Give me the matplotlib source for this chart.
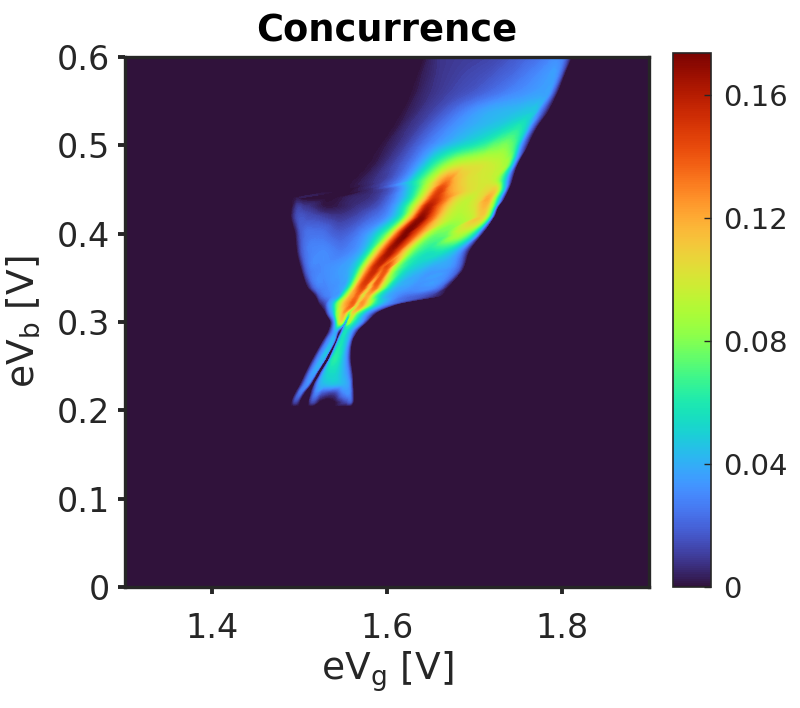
import numpy as np
import matplotlib
matplotlib.use('Agg')
import matplotlib.pyplot as plt
import matplotlib.tri as mtri
from matplotlib.cm import ScalarMappable
from matplotlib.colors import Normalize

# concurrence, row by row (eV_b), each row has the same
# 16 knots along eV_g: left edge ... main ridge ... right edge
eV_b = [0.60, 0.58, 0.56, 0.54, 0.52, 0.50, 0.48, 0.46, 0.45, 0.44, 0.43, 0.42, 0.40, 0.38,
        0.36, 0.34, 0.33, 0.32, 0.31, 0.30, 0.29, 0.28, 0.26, 0.24, 0.23, 0.22, 0.21, 0.205]

eV_g = [
    [1.641, 1.646, 1.653, 1.662, 1.674, 1.689, 1.706, 1.719, 1.732, 1.746, 1.758, 1.771, 1.783, 1.795, 1.803, 1.811],
    [1.634, 1.639, 1.649, 1.660, 1.674, 1.689, 1.706, 1.719, 1.732, 1.746, 1.758, 1.771, 1.783, 1.793, 1.798, 1.803],
    [1.626, 1.633, 1.642, 1.654, 1.668, 1.683, 1.699, 1.714, 1.729, 1.742, 1.756, 1.769, 1.779, 1.786, 1.790, 1.795],
    [1.617, 1.623, 1.633, 1.644, 1.657, 1.671, 1.686, 1.702, 1.717, 1.734, 1.749, 1.763, 1.771, 1.775, 1.780, 1.785],
    [1.604, 1.612, 1.621, 1.633, 1.645, 1.658, 1.671, 1.685, 1.700, 1.714, 1.729, 1.742, 1.753, 1.759, 1.765, 1.771],
    [1.590, 1.598, 1.607, 1.619, 1.631, 1.643, 1.655, 1.669, 1.683, 1.697, 1.711, 1.725, 1.738, 1.747, 1.754, 1.761],
    [1.575, 1.587, 1.601, 1.614, 1.628, 1.641, 1.654, 1.667, 1.679, 1.693, 1.708, 1.723, 1.732, 1.739, 1.745, 1.750],
    [1.557, 1.569, 1.582, 1.601, 1.620, 1.637, 1.651, 1.661, 1.669, 1.677, 1.691, 1.706, 1.717, 1.725, 1.734, 1.743],
    [1.547, 1.551, 1.559, 1.566, 1.582, 1.605, 1.631, 1.649, 1.661, 1.671, 1.692, 1.706, 1.717, 1.725, 1.732, 1.739],
    [1.491, 1.497, 1.503, 1.533, 1.557, 1.597, 1.626, 1.642, 1.654, 1.665, 1.678, 1.694, 1.708, 1.717, 1.726, 1.734],
    [1.491, 1.498, 1.506, 1.529, 1.563, 1.597, 1.620, 1.635, 1.646, 1.658, 1.671, 1.685, 1.700, 1.714, 1.722, 1.727],
    [1.490, 1.497, 1.511, 1.546, 1.580, 1.603, 1.618, 1.629, 1.640, 1.651, 1.664, 1.679, 1.697, 1.711, 1.717, 1.723],
    [1.495, 1.502, 1.521, 1.546, 1.571, 1.589, 1.603, 1.611, 1.621, 1.629, 1.637, 1.649, 1.666, 1.685, 1.701, 1.709],
    [1.497, 1.503, 1.523, 1.551, 1.571, 1.580, 1.587, 1.595, 1.603, 1.611, 1.618, 1.628, 1.643, 1.666, 1.683, 1.694],
    [1.502, 1.508, 1.525, 1.546, 1.557, 1.565, 1.572, 1.578, 1.586, 1.593, 1.599, 1.607, 1.619, 1.643, 1.681, 1.687],
    [1.509, 1.517, 1.532, 1.546, 1.553, 1.557, 1.562, 1.566, 1.573, 1.580, 1.587, 1.595, 1.605, 1.626, 1.660, 1.670],
    [1.518, 1.524, 1.538, 1.546, 1.550, 1.555, 1.558, 1.562, 1.566, 1.572, 1.578, 1.585, 1.594, 1.612, 1.651, 1.663],
    [1.523, 1.529, 1.533, 1.538, 1.542, 1.547, 1.551, 1.556, 1.561, 1.565, 1.571, 1.577, 1.584, 1.593, 1.604, 1.611],
    [1.530, 1.532, 1.535, 1.538, 1.540, 1.542, 1.545, 1.548, 1.551, 1.556, 1.561, 1.565, 1.571, 1.575, 1.580, 1.587],
    [1.5354, 1.5371, 1.5389, 1.5406, 1.5423, 1.5440, 1.5457, 1.5480, 1.5503, 1.5526, 1.5560, 1.5594, 1.5629, 1.5663, 1.5709, 1.5766],
    [1.5331, 1.5354, 1.5377, 1.5394, 1.5411, 1.5423, 1.5434, 1.5446, 1.5457, 1.5469, 1.5491, 1.5514, 1.5549, 1.5583, 1.5617, 1.5663],
    [1.5274, 1.5297, 1.5320, 1.5354, 1.5377, 1.5394, 1.5406, 1.5417, 1.5429, 1.5440, 1.5451, 1.5480, 1.5514, 1.5549, 1.5571, 1.5606],
    [1.5160, 1.5183, 1.5206, 1.5240, 1.5263, 1.5286, 1.5297, 1.5309, 1.5343, 1.5354, 1.5371, 1.5400, 1.5446, 1.5491, 1.5537, 1.5583],
    [1.5057, 1.5080, 1.5103, 1.5126, 1.5149, 1.5166, 1.5177, 1.5189, 1.5223, 1.5240, 1.5263, 1.5309, 1.5400, 1.5491, 1.5560, 1.5606],
    [1.5011, 1.5034, 1.5057, 1.5080, 1.5097, 1.5109, 1.5120, 1.5131, 1.5166, 1.5183, 1.5217, 1.5297, 1.5411, 1.5514, 1.5571, 1.5611],
    [1.4954, 1.4977, 1.4994, 1.5011, 1.5023, 1.5034, 1.5046, 1.5057, 1.5126, 1.5149, 1.5183, 1.5251, 1.5400, 1.5514, 1.5571, 1.5617],
    [1.4909, 1.4926, 1.4943, 1.4960, 1.4977, 1.4989, 1.5000, 1.5011, 1.5103, 1.5114, 1.5149, 1.5229, 1.5400, 1.5537, 1.5583, 1.5617],
    [1.4909, 1.4926, 1.4943, 1.4960, 1.4977, 1.4989, 1.5000, 1.5011, 1.5103, 1.5114, 1.5149, 1.5229, 1.5400, 1.5537, 1.5583, 1.5617],
]

concurrence = [
    [0, .002, .005, .008, .009, .010, .011, .012, .014, .017, .020, .023, .027, .031, .024, 0],
    [0, .002, .005, .008, .010, .012, .014, .016, .019, .022, .026, .030, .034, .034, .022, 0],
    [0, .002, .005, .008, .011, .014, .017, .021, .025, .029, .032, .035, .036, .034, .020, 0],
    [0, .002, .005, .009, .013, .019, .026, .033, .038, .041, .043, .046, .044, .030, .015, 0],
    [0, .002, .006, .010, .016, .023, .030, .036, .041, .045, .050, .057, .060, .050, .025, 0],
    [0, .002, .005, .010, .017, .025, .033, .042, .050, .057, .065, .075, .078, .065, .030, 0],
    [0, .002, .008, .015, .025, .040, .060, .077, .090, .096, .098, .095, .090, .080, .040, 0],
    [0, .002, .006, .014, .033, .065, .092, .118, .130, .118, .105, .100, .098, .090, .055, 0],
    [0, 0, 0, .002, .006, .018, .058, .105, .145, .125, .105, .100, .105, .105, .060, 0],
    [0, .002, 0, 0, .004, .016, .056, .105, .150, .135, .107, .095, .105, .118, .065, 0],
    [0, .011, .009, .002, .007, .022, .058, .110, .160, .135, .105, .093, .100, .112, .065, 0],
    [0, .014, .014, .008, .019, .035, .065, .115, .168, .140, .105, .090, .095, .105, .070, 0],
    [0, .018, .024, .018, .029, .050, .085, .130, .172, .150, .125, .085, .075, .090, .050, 0],
    [0, .018, .030, .027, .040, .062, .095, .135, .165, .145, .115, .080, .060, .055, .033, 0],
    [0, .020, .030, .035, .040, .055, .090, .125, .155, .135, .140, .090, .060, .040, .020, 0],
    [0, .022, .030, .035, .043, .062, .095, .125, .145, .110, .135, .090, .050, .034, .024, 0],
    [0, .020, .032, .040, .065, .095, .115, .125, .135, .100, .120, .080, .050, .030, .010, 0],
    [0, .012, .030, .045, .070, .095, .115, .128, .135, .105, .125, .100, .065, .040, .020, 0],
    [0, .012, .028, .040, .055, .075, .090, .110, .120, .075, .105, .080, .055, .040, .025, 0],
    [0, .012, .025, .040, .060, .080, .095, .100, .070, .025, .085, .070, .055, .045, .030, 0],
    [0, .012, .025, .033, .040, .037, .025, .010, .003, 0, .030, .055, .050, .040, .025, 0],
    [0, .012, .025, .035, .042, .035, .015, 0, 0, .020, .040, .056, .050, .040, .028, 0],
    [0, .012, .025, .035, .042, .040, .025, 0, 0, .025, .050, .062, .058, .045, .030, 0],
    [0, .012, .024, .032, .035, .030, .015, 0, 0, .020, .038, .050, .052, .042, .028, 0],
    [0, .012, .024, .030, .030, .020, .010, 0, 0, .015, .034, .044, .045, .040, .030, 0],
    [0, .012, .022, .025, .020, .012, .005, 0, 0, .012, .028, .018, .012, .030, .030, 0],
    [0, .006, .012, .012, .008, .004, 0, 0, 0, .006, .014, 0, 0, .014, .018, 0],
    [0, 0, 0, 0, 0, 0, 0, 0, 0, 0, 0, 0, 0, 0, 0, 0],
]

x_ticks = [1.4, 1.6, 1.8]
y_ticks = [0, 0.1, 0.2, 0.3, 0.4, 0.5, 0.6]
y_tick_labels = ['0', '0.1', '0.2', '0.3', '0.4', '0.5', '0.6']
cbar_ticks = [0, 0.04, 0.08, 0.12, 0.16]
cbar_tick_labels = ['0', '0.04', '0.08', '0.12', '0.16']
vmax = 0.1735

dark = '#262626'
cmap = plt.get_cmap('turbo').copy()
cmap.set_under(cmap(0))
cmap.set_over(cmap(255))

# knots are connected row to row, so the mesh runs along the ridge
x = np.array(eV_g).ravel()
n_rows, n_knots = np.array(eV_g).shape
y = np.repeat(eV_b, n_knots)
z = np.array(concurrence, dtype=float).ravel()

triangles = []
for i in range(n_rows - 1):
    for j in range(n_knots - 1):
        a = i * n_knots + j
        b = a + 1
        c = a + n_knots
        d = c + 1
        triangles.append([a, b, c])
        triangles.append([b, d, c])
mesh = mtri.Triangulation(x, y, triangles)
smooth = mtri.CubicTriInterpolator(mesh, z, kind='geom')
fine_mesh, fine_z = mtri.UniformTriRefiner(mesh).refine_field(z, triinterpolator=smooth, subdiv=3)

W, H = 800, 708
fig = plt.figure(figsize=(W / 100, H / 100), dpi=100)
ax = fig.add_axes([125 / W, 1 - 587 / H, 524 / W, 530 / H])
ax.set_facecolor(cmap(0))
ax.tricontourf(fine_mesh, fine_z, levels=np.linspace(0, vmax, 220), cmap=cmap, vmin=0, vmax=vmax,
               antialiased=False, extend='max')

ax.set_xlim(1.3, 1.9)
ax.set_ylim(0, 0.6)
ax.set_xticks(x_ticks)
ax.set_yticks(y_ticks)
ax.set_yticklabels(y_tick_labels)
ax.tick_params(length=5, width=2.8, labelsize=24, colors=dark, pad=6)
ax.tick_params(axis='x', pad=13)
for s in ax.spines.values():
    s.set_linewidth(2.4)
    s.set_color(dark)

ax.set_xlabel('eV$_{\\mathrm{g}}$ [V]', fontsize=27, color=dark, labelpad=3)
ax.set_ylabel('eV$_{\\mathrm{b}}$ [V]', fontsize=27, color=dark, labelpad=10)
ax.set_title('Concurrence', fontsize=26.5, fontweight='bold', color='black', pad=11)

cax = fig.add_axes([673 / W, 1 - 587 / H, 38 / W, 534 / H])
cbar = fig.colorbar(ScalarMappable(Normalize(0, vmax), cmap), cax=cax)
cbar.set_ticks(cbar_ticks)
cbar.set_ticklabels(cbar_tick_labels)
cax.tick_params(direction='in', length=5, width=1, labelsize=21, colors=dark, pad=9)
cbar.outline.set_linewidth(1.2)
cbar.outline.set_edgecolor(dark)

fig.savefig('out.png', dpi=100)
